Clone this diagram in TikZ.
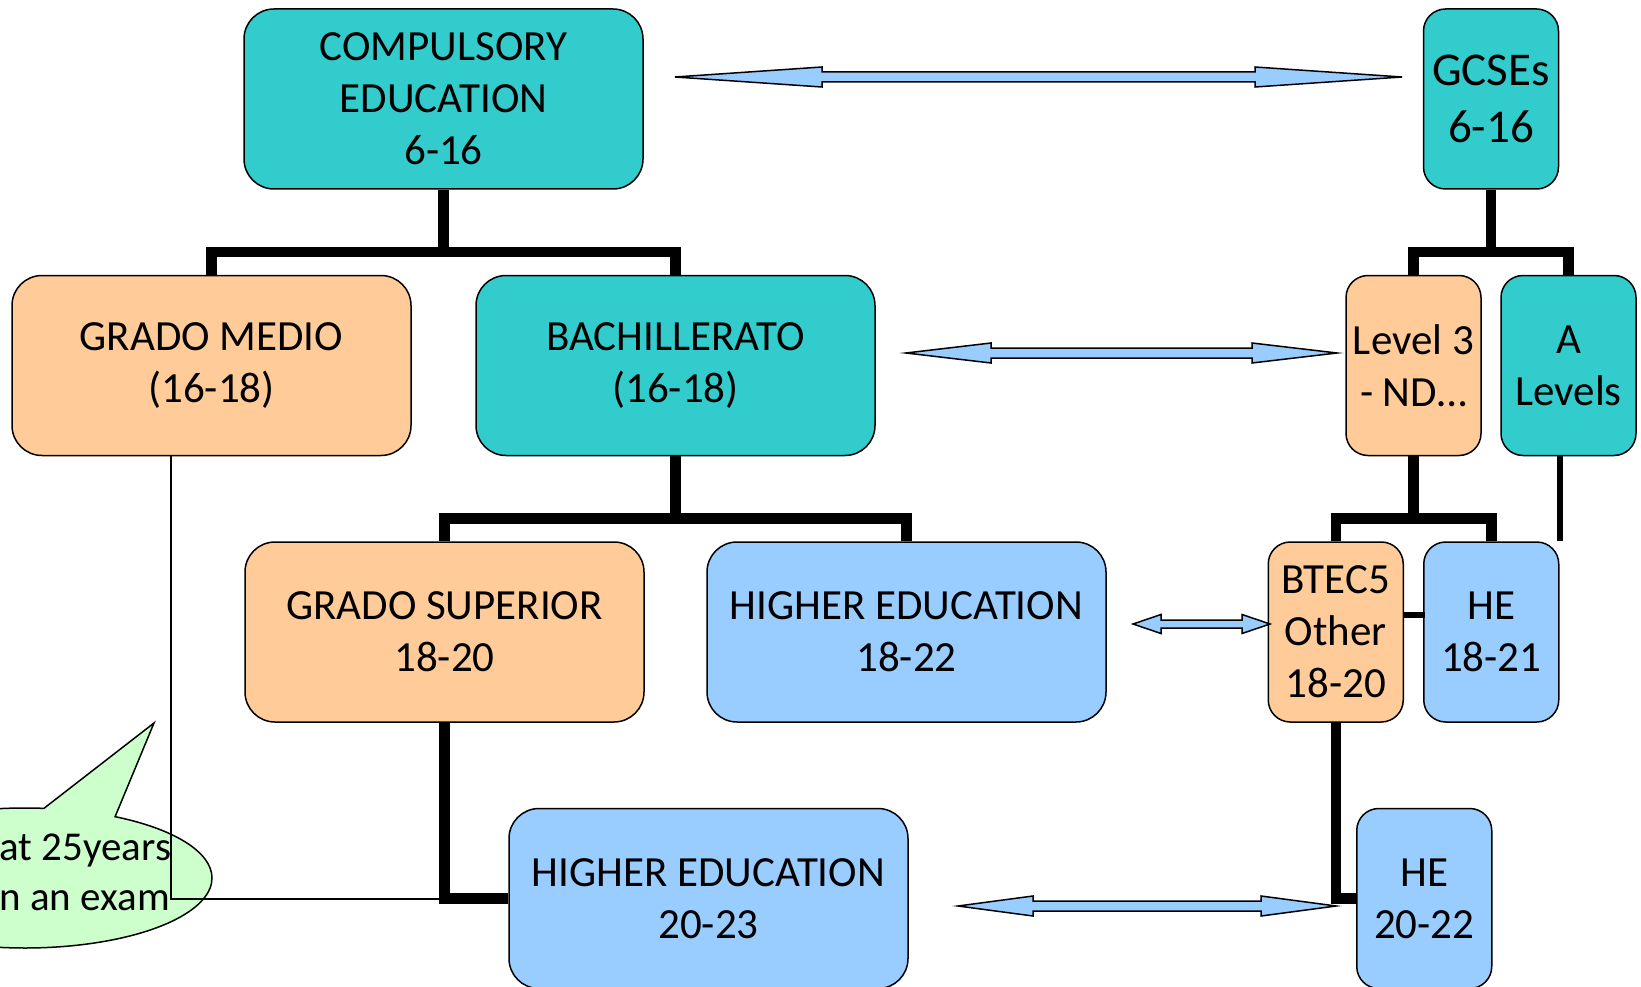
\documentclass[tikz,border=0pt]{standalone}
\usepackage{fontspec}
\setmainfont{Carlito}
\usepackage{tikz}
\usetikzlibrary{shapes.callouts,calc}

\definecolor{tealbox}{HTML}{33CCCC}
\definecolor{peachbox}{HTML}{FFCC99}
\definecolor{bluebox}{HTML}{99CCFF}
\definecolor{notegreen}{HTML}{CCFFCC}

\begin{document}
\begin{tikzpicture}[x=1pt,y=-1pt,
    box/.style={draw,line width=1.5pt,rounded corners=30pt,minimum width=399pt,minimum height=180pt,
        inner sep=0pt,align=center,font=\fontsize{43}{52}\selectfont},
    narrow/.style={minimum width=135pt,rounded corners=22pt},
    teal/.style={box,fill=tealbox},
    peach/.style={box,fill=peachbox},
    blue/.style={box,fill=bluebox},
    level distance=266.5pt,
    edge from parent/.style={draw,line width=10.5pt},
    edge from parent path={(\tikzparentnode.south) -- ++(0,62) -| (\tikzchildnode.north)},
    twoway/.style={draw,line width=1.5pt,fill=bluebox,line join=miter}]
    \useasboundingbox (0,0) rectangle (1641,987);

            \node[ellipse callout,draw,line width=1.5pt,fill=notegreen,minimum width=374pt,minimum height=140pt,
                callout absolute pointer={(154,723)},callout pointer arc=23] (bubble) at (25,878) {};
            \node[anchor=west,align=left,font=\fontsize{41}{50}\selectfont] (note) at (-4,872) {at 25years\\n an exam};

            \node[teal] (compulsory) at (443.5,99) {COMPULSORY\\EDUCATION\\6-16}
            [level 1/.style={sibling distance=464pt}]
            [level 2/.style={sibling distance=462pt}]
            [level 3/.style={sibling distance=528pt,
                edge from parent path={(\tikzparentnode.south) |- (\tikzchildnode.west)}}]
            child
            {
                node[peach] (medio) {GRADO MEDIO\\(16-18)}
            }
            child
            {
                node[teal] (bach) {BACHILLERATO\\(16-18)}
                child
                {
                    node[peach] (superior) {GRADO SUPERIOR\\18-20}
                    child[missing]
                    child {node[blue] (he2023) {HIGHER EDUCATION\\20-23}}
                }
                child {node[blue] (he1822) {HIGHER EDUCATION\\18-22}}
            };

            \node[teal,narrow,font=\fontsize{47}{56.5}\selectfont] (gcse) at (1491,99) {GCSEs\\6-16}
            [level 1/.style={sibling distance=155pt}]
            [level 2/.style={sibling distance=155.5pt}]
            [level 3/.style={sibling distance=177pt,
                edge from parent path={(\tikzparentnode.south) |- (\tikzchildnode.west)}}]
            child
            {
                node[peach,narrow] (level3) {Level 3\\- ND…}
                child
                {
                    node[peach,narrow] (btec) {BTEC5\\Other\\18-20}
                    child[missing]
                    child {node[blue,narrow] (he2022) {HE\\20-22}}
                }
                child {node[blue,narrow] (he1821) {HE\\18-21}}
            }
            child
            {
                node[teal,narrow] (alevels) {A\\Levels}
            };

            \draw[line width=2pt] (medio.south) ++(-41,0) |- (he2023.west);
            \draw[line width=6pt] (alevels.south -| he1821.east) -- (he1821.north east);
            \draw[line width=6pt] (btec.east) ++(0,-17) -- ++(21,0);

            \coordinate (topl) at (675,77);
            \coordinate (topr) at (1402,77);
            \coordinate (midl) at (906,353);
            \coordinate (midr) at (1337,353);
            \coordinate (smalll) at (1133,624);
            \coordinate (smallr) at (1270,624);
            \coordinate (lowl) at (958,906);
            \coordinate (lowr) at (1336,906);
            \draw[twoway] (topl) -- ++(147,-10) -- ++(0,5) -- ($(topr)+(-147,-5)$) -- ++(0,-5) -- (topr)
                -- ++(-147,10) -- ++(0,-5) -- ($(topl)+(147,5)$) -- ++(0,5) -- cycle;
            \draw[twoway] (midl) -- ++(85,-10) -- ++(0,5) -- ($(midr)+(-85,-5)$) -- ++(0,-5) -- (midr)
                -- ++(-85,10) -- ++(0,-5) -- ($(midl)+(85,5)$) -- ++(0,5) -- cycle;
            \draw[twoway] (smalll) -- ++(28,-9.5) -- ++(0,5.5) -- ($(smallr)+(-28,-4)$) -- ++(0,-5.5) -- (smallr)
                -- ++(-28,9.5) -- ++(0,-5.5) -- ($(smalll)+(28,4)$) -- ++(0,5.5) -- cycle;
            \draw[twoway] (lowl) -- ++(75,-10) -- ++(0,5) -- ($(lowr)+(-75,-5)$) -- ++(0,-5) -- (lowr)
                -- ++(-75,10) -- ++(0,-5) -- ($(lowl)+(75,5)$) -- ++(0,5) -- cycle;

        \end{tikzpicture}
\end{document}
